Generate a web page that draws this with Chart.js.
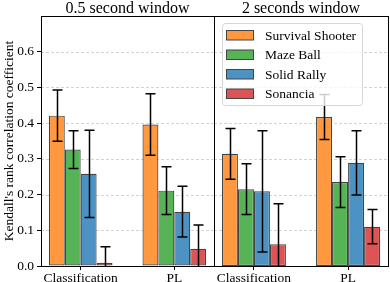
<!DOCTYPE html>
<html>
<head>
<meta charset="utf-8">
<script src="https://cdn.jsdelivr.net/npm/chart.js@4.4.0/dist/chart.umd.min.js"></script>
<style>
  body { margin: 0; background: #fff; }
  #wrap { position: relative; width: 390px; height: 282px; }
  canvas { position: absolute; top: 0; }
</style>
</head>
<body>
<div id="wrap">
  <canvas id="left" width="216" height="282" style="left:0;width:216px;height:282px"></canvas>
  <canvas id="right" width="178" height="282" style="left:212px;width:178px;height:282px"></canvas>
</div>
<script>
// categories and games
var categories = ["Classification", "PL"];
var games = ["Survival Shooter", "Maze Ball", "Solid Rally", "Sonancia"];
var colors = ["#ff983e", "#56b356", "#4c92c3", "#de5353"];
var yTicks = [0.0, 0.1, 0.2, 0.3, 0.4, 0.5, 0.6];

// 0.5 second window: mean and std per game, [Classification, PL]
var shortMean = [[0.421, 0.396], [0.326, 0.211], [0.258, 0.152], [0.009, 0.048]];
var shortErr  = [[0.072, 0.086], [0.053, 0.067], [0.122, 0.071], [0.045, 0.067]];
// 2 seconds window
var longMean = [[0.314, 0.417], [0.215, 0.235], [0.209, 0.289], [0.061, 0.110]];
var longErr  = [[0.071, 0.063], [0.071, 0.071], [0.170, 0.090], [0.113, 0.048]];

var serif = "'Liberation Serif', 'DejaVu Serif', serif";

// dashed grid behind bars, frame, title on top
var panelPlugin = {
    id: 'panel',
    beforeDatasetsDraw: function(chart) {
        var c = chart.ctx, a = chart.chartArea, y = chart.scales.y;
        c.save();
        c.strokeStyle = '#c8c8c8';
        c.lineWidth = 0.8;
        c.setLineDash([3, 2]);
        yTicks.forEach(function(v) {
            if (v === 0) return;
            var py = Math.round(y.getPixelForValue(v)) + 0.5;
            c.beginPath(); c.moveTo(a.left, py); c.lineTo(a.right, py); c.stroke();
        });
        c.restore();
    },
    afterDraw: function(chart) {
        var c = chart.ctx, a = chart.chartArea;
        c.save();
        c.strokeStyle = '#000';
        c.lineWidth = 1;
        c.strokeRect(Math.round(a.left) + 0.5, Math.round(a.top) + 0.5,
                     Math.round(a.right - a.left), Math.round(a.bottom - a.top));
        c.fillStyle = '#000';
        c.font = '16px ' + serif;
        c.textAlign = 'center';
        c.textBaseline = 'alphabetic';
        c.fillText(chart.options.plugins.panel.title, (a.left + a.right) / 2, 13);
        c.restore();
    }
};

// error bars from the err arrays
var errorPlugin = {
    id: 'errbars',
    afterDatasetsDraw: function(chart) {
        var c = chart.ctx, y = chart.scales.y, a = chart.chartArea;
        c.save();
        c.beginPath(); c.rect(a.left, a.top, a.right - a.left, a.bottom - a.top); c.clip();
        c.strokeStyle = '#000';
        c.lineWidth = 1.5;
        chart.data.datasets.forEach(function(ds, i) {
            chart.getDatasetMeta(i).data.forEach(function(bar, j) {
                var v = ds.data[j].y, e = ds.err[j];
                var x = Math.round(bar.x) + 0.5;
                var t = y.getPixelForValue(v + e), b = y.getPixelForValue(v - e);
                c.beginPath();
                c.moveTo(x, t); c.lineTo(x, b);
                c.moveTo(x - 5, t); c.lineTo(x + 5, t);
                c.moveTo(x - 5, b); c.lineTo(x + 5, b);
                c.stroke();
            });
        });
        c.restore();
    }
};

// legend inside right panel
var legendPlugin = {
    id: 'boxlegend',
    afterDraw: function(chart) {
        if (!chart.options.plugins.boxlegend.show) return;
        var c = chart.ctx, a = chart.chartArea;
        var x0 = a.left + 8, y0 = a.top + 7, w = 140, h = 82;
        c.save();
        c.fillStyle = 'rgba(255,255,255,0.8)';
        c.strokeStyle = '#d6d6d6';
        c.lineWidth = 1;
        c.beginPath();
        c.roundRect(x0 + 0.5, y0 + 0.5, w, h, 3);
        c.fill(); c.stroke();
        c.font = '13.5px ' + serif;
        c.textBaseline = 'middle';
        c.textAlign = 'left';
        games.forEach(function(g, i) {
            var ry = y0 + 12 + i * 19.5;
            c.fillStyle = colors[i];
            c.fillRect(x0 + 4, ry - 4.5, 28, 9.5);
            c.strokeStyle = '#444';
            c.strokeRect(x0 + 4.5, ry - 4.5, 27, 9.5);
            c.fillStyle = '#000';
            c.fillText(g, x0 + 43, ry + 1);
        });
        c.restore();
    }
};

function makeDatasets(means, errs) {
    return games.map(function(g, i) {
        return {
            label: g,
            data: categories.map(function(cat, j) { return { x: j, y: means[i][j] }; }),
            err: errs[i],
            backgroundColor: colors[i],
            borderColor: '#444',
            borderWidth: 1.2,
            borderSkipped: false,
            barPercentage: 1.0,
            categoryPercentage: 0.68
        };
    });
}

function makeChart(id, title, means, errs, showY, showLegend, pad) {
    return new Chart(document.getElementById(id).getContext('2d'), {
        type: 'bar',
        data: { datasets: makeDatasets(means, errs) },
        options: {
            responsive: false,
            animation: false,
            events: [],
            layout: { padding: pad },
            plugins: {
                legend: { display: false },
                tooltip: { enabled: false },
                panel: { title: title },
                boxlegend: { show: showLegend }
            },
            scales: {
                x: {
                    type: 'linear',
                    offset: false,
                    min: -0.424, max: 1.424,
                    afterBuildTicks: function(s) { s.ticks = categories.map(function(c, i) { return { value: i }; }); },
                    afterFit: function(s) { s.height = 16; },
                    ticks: {
                        color: '#000', padding: 0, maxRotation: 0, autoSkip: false,
                        font: { family: serif, size: 13.5 },
                        callback: function(v) { return categories[v]; }
                    },
                    grid: { offset: false, drawOnChartArea: false, drawTicks: true, tickLength: 4, tickColor: '#000', lineWidth: 1 },
                    border: { display: false }
                },
                y: {
                    display: showY,
                    min: 0, max: 0.7,
                    afterBuildTicks: function(s) { s.ticks = yTicks.map(function(v) { return { value: v }; }); },
                    afterFit: function(s) { if (showY) s.width = 41; },
                    ticks: {
                        color: '#000', padding: 3,
                        font: { family: serif, size: 13.5 },
                        callback: function(v) { return v.toFixed(1); }
                    },
                    title: {
                        display: true,
                        text: "Kendall's rank correlation coefficient",
                        color: '#000',
                        padding: { top: 1, bottom: 0 },
                        font: { family: serif, size: 13.5 }
                    },
                    grid: { drawOnChartArea: false, drawTicks: true, tickLength: 4, tickColor: '#000', lineWidth: 1 },
                    border: { display: false }
                }
            }
        },
        plugins: [panelPlugin, errorPlugin, legendPlugin]
    });
}

var leftChart = makeChart('left', '0.5 second window', shortMean, shortErr, true, false,
                          { left: 0, top: 16, right: 2, bottom: 0 });
var rightChart = makeChart('right', '2 seconds window', longMean, longErr, false, true,
                           { left: 2, top: 16, right: 2, bottom: 0 });
</script>
</body>
</html>
